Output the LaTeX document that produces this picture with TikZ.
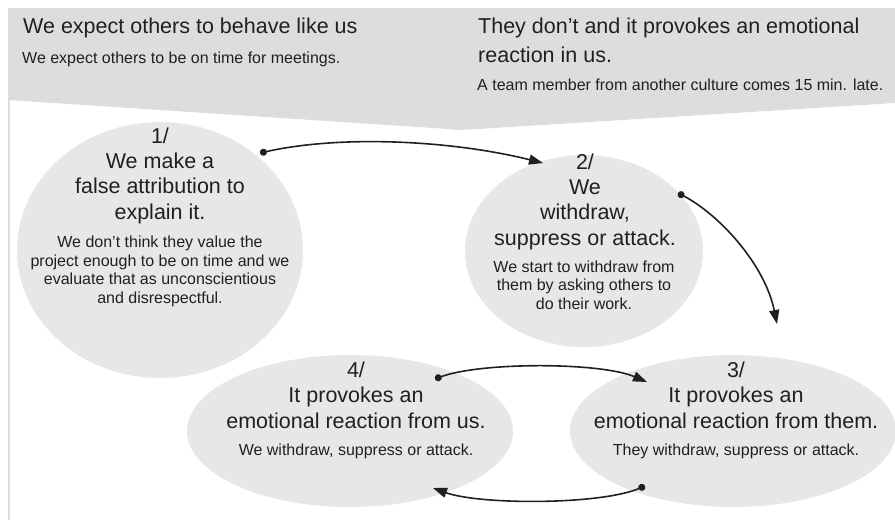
\documentclass[tikz,border=0pt]{standalone}
\usepackage{fontspec}
\setmainfont{Liberation Sans}
\usetikzlibrary{arrows.meta,shapes.geometric}
\definecolor{bannergrey}{RGB}{220,221,223}
\definecolor{bubblegrey}{RGB}{230,231,232}
\definecolor{ink}{RGB}{35,31,32}
\definecolor{edgegrey}{RGB}{222,222,223}
\begin{document}
\begin{tikzpicture}[x=1pt,y=-1pt,
  bubble/.style={ellipse, fill=bubblegrey, inner sep=0pt, draw=none},
  headtxt/.style={text=ink, inner sep=0pt, anchor=base west, font=\fontsize{21.5}{28.5}\selectfont, align=left},
  subtxt/.style={text=ink, inner sep=0pt, anchor=base west, font=\fontsize{16}{19}\selectfont},
  bigtxt/.style={text=ink, align=center, inner sep=0pt, anchor=base, font=\fontsize{21.5}{25.3}\selectfont},
  smalltxt/.style={text=ink, align=center, inner sep=0pt, anchor=base, font=\fontsize{16}{18.4}\selectfont},
  flow/.style={draw=ink, line width=1.6pt, {Circle[length=7pt]}-{Triangle[length=14pt,width=10pt]}},
]
\useasboundingbox (0,0) rectangle (895,520);

% header banner with a shallow point at the bottom
\fill[bannergrey] (8,8) -- (895,8) -- (895,103) -- (470,129.5)
  .. controls (462,130) and (456,130) .. (448,129) -- (8,100) -- cycle;
% thin rule down the left side
\draw[edgegrey, line width=1.6pt] (9,100) -- (9,520);

% banner texts (multi-line nodes are placed by the baseline of their last line)
\node[headtxt] (h1) at (23,33) {We expect others to behave like us};
\node[subtxt] (s1) at (22,63) {We expect others to be on time for meetings.};
\node[headtxt] (h2) at (478,62) {They don’t and it provokes an emotional\\reaction in us.};
\node[subtxt] (s2) at (477,90) {A team member from another culture comes 15 min. late.};

% the four stages
\node[bubble, minimum width=286pt, minimum height=256pt] (e1) at (160,250) {};
\node[bubble, minimum width=238pt, minimum height=192pt] (e2) at (584,251) {};
\node[bubble, minimum width=326pt, minimum height=152pt] (e4) at (350,431) {};
\node[bubble, minimum width=326pt, minimum height=152pt] (e3) at (733,431) {};

\node[bigtxt] (t1) at (160,219) {1/\\We make a\\false attribution to\\explain it.};
\node[smalltxt] (b1) at (160,303) {We don’t think they value the\\project enough to be on time and we\\evaluate that as unconscientious\\and disrespectful.};

\node[bigtxt] (t2) at (585,245) {2/\\We\\withdraw,\\suppress or attack.};
\node[smalltxt] (b2) at (584,309) {We start to withdraw from\\them by asking others to\\do their work.};

\node[bigtxt] (t3) at (736,428) {3/\\It provokes an\\emotional reaction from them.};
\node[smalltxt] (b3) at (736,455) {They withdraw, suppress or attack.};

\node[bigtxt] (t4) at (356,428) {4/\\It provokes an\\emotional reaction from us.};
\node[smalltxt] (b4) at (356,455) {We withdraw, suppress or attack.};

% connector ends
\coordinate (o1) at (260,153);
\coordinate (i2) at (543,163);
\coordinate (o2) at (678,193);
\coordinate (i3) at (777,324);
\coordinate (o4) at (435,379);
\coordinate (i3b) at (647,382);
\coordinate (o3) at (645,486);
\coordinate (i4) at (433,488);

% connectors
\draw[flow] (o1) .. controls (340,135) and (450,140) .. (i2);
\draw[flow] (o2) .. controls (720,215) and (765,265) .. (i3);
\draw[flow] (o4) .. controls (480,362) and (600,362) .. (i3b);
\draw[flow] (o3) .. controls (600,505) and (480,505) .. (i4);
\end{tikzpicture}
\end{document}
